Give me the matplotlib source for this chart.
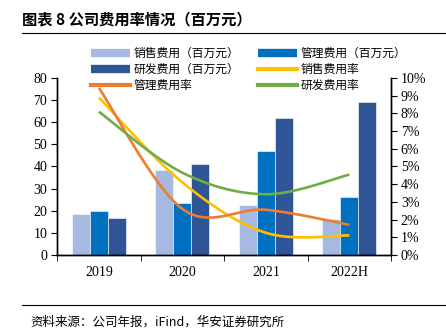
import numpy as np
import matplotlib.pyplot as plt
from matplotlib.lines import Line2D

plt.rcParams['font.family'] = ['Liberation Serif', 'Noto Sans CJK SC']
cjk = ['Noto Sans CJK SC', 'DejaVu Sans']

years = ['2019', '2020', '2021', '2022H']
sales_exp = [18.5, 38.5, 22.7, 16.2]     # 销售费用（百万元）
admin_exp = [19.9, 23.5, 46.8, 26.4]     # 管理费用（百万元）
rd_exp = [16.8, 41.0, 61.8, 69.0]        # 研发费用（百万元）
sales_rate = [8.9, 4.1, 1.25, 1.1]       # 销售费用率 %
admin_rate = [9.45, 2.6, 2.55, 1.7]      # 管理费用率 %
rd_rate = [8.1, 4.65, 3.43, 4.54]        # 研发费用率 %


def smooth(y, n=40):
    # bezier smoothing like the spreadsheet "smoothed line"
    y = np.asarray(y, float)
    x = np.arange(len(y), dtype=float)
    xs, ys = [], []
    for i in range(len(y) - 1):
        p0 = np.array([x[i], y[i]])
        p3 = np.array([x[i + 1], y[i + 1]])
        pm = np.array([x[max(i - 1, 0)], y[max(i - 1, 0)]])
        pp = np.array([x[min(i + 2, len(y) - 1)], y[min(i + 2, len(y) - 1)]])
        p1 = p0 + (p3 - pm) / 6
        p2 = p3 - (pp - p0) / 6
        t = np.linspace(0, 1, n)[:, None]
        pts = (1 - t) ** 3 * p0 + 3 * (1 - t) ** 2 * t * p1 + 3 * (1 - t) * t ** 2 * p2 + t ** 3 * p3
        xs.append(pts[:, 0])
        ys.append(pts[:, 1])
    return np.concatenate(xs), np.concatenate(ys)


fig = plt.figure(figsize=(4.46, 3.31), dpi=100)
ax = fig.add_axes([0.128, 0.230, 0.749, 0.534])
ax2 = ax.twinx()

c_sales, c_admin, c_rd = '#A6B9E0', '#0070C0', '#2F5597'
c_sr, c_ar, c_rr = '#FFC000', '#ED7D31', '#70AD47'

x = np.arange(len(years))
w = 0.215
ax.bar(x - w, sales_exp, w, color=c_sales, edgecolor='white', linewidth=0.4)
ax.bar(x, admin_exp, w, color=c_admin, edgecolor='white', linewidth=0.4)
ax.bar(x + w, rd_exp, w, color=c_rd, edgecolor='white', linewidth=0.4)

for vals, c in [(sales_rate, c_sr), (admin_rate, c_ar), (rd_rate, c_rr)]:
    sx, sy = smooth(vals)
    ax2.plot(sx, sy / 100, color=c, lw=1.9, solid_capstyle='butt')

ax.set_xlim(-0.5, len(years) - 0.5)
ax.set_ylim(0, 80)
ax.set_yticks(range(0, 81, 10))
ax2.set_ylim(0, 0.10)
ax2.set_yticks(np.arange(0, 0.101, 0.01))
ax2.set_yticklabels([f'{i}%' for i in range(11)])

ax.set_xticks(x)
ax.set_xticklabels(years)
ax.set_xticks(np.arange(-0.5, len(years), 1), minor=True)
ax.tick_params(axis='x', which='major', length=0, pad=8)
ax.tick_params(axis='x', which='minor', length=4, direction='out')
ax.tick_params(axis='y', length=4, direction='out', pad=3)
ax2.tick_params(axis='y', length=4, direction='out', pad=3)
for a in (ax, ax2):
    a.tick_params(labelsize=10, colors='black')
    a.spines['top'].set_visible(False)
    for s in ('left', 'right', 'bottom'):
        a.spines[s].set_linewidth(1.0)

handles = [
    Line2D([], [], color=c_sales, lw=6, solid_capstyle='butt'),
    Line2D([], [], color=c_rd, lw=6, solid_capstyle='butt'),
    Line2D([], [], color=c_ar, lw=3),
    Line2D([], [], color=c_admin, lw=6, solid_capstyle='butt'),
    Line2D([], [], color=c_sr, lw=3),
    Line2D([], [], color=c_rr, lw=3),
]
labels = ['销售费用（百万元）', '研发费用（百万元）', '管理费用率',
          '管理费用（百万元）', '销售费用率', '研发费用率']
fig.legend(handles, labels, ncol=2, loc='upper left', bbox_to_anchor=(0.19, 0.875),
           frameon=False, prop={'family': cjk, 'size': 8.5}, handlelength=3.3,
           handletextpad=0.3, columnspacing=1.6, labelspacing=0.25, borderpad=0)

fig.text(0.05, 0.94, '图表 8 公司费用率情况（百万元）', fontsize=11, fontweight='bold',
         family=cjk, va='center', ha='left')
fig.add_artist(Line2D([22 / 446, 1.0], [1 - 33 / 331] * 2, color='black', lw=0.8))
fig.add_artist(Line2D([22 / 446, 1.0], [1 - 305 / 331] * 2, color='black', lw=0.8))
fig.text(0.068, 1 - 322 / 331, '资料来源：公司年报，iFind，华安证券研究所', fontsize=9,
         family=cjk, va='center', ha='left')

fig.savefig('out.png', dpi=100)
